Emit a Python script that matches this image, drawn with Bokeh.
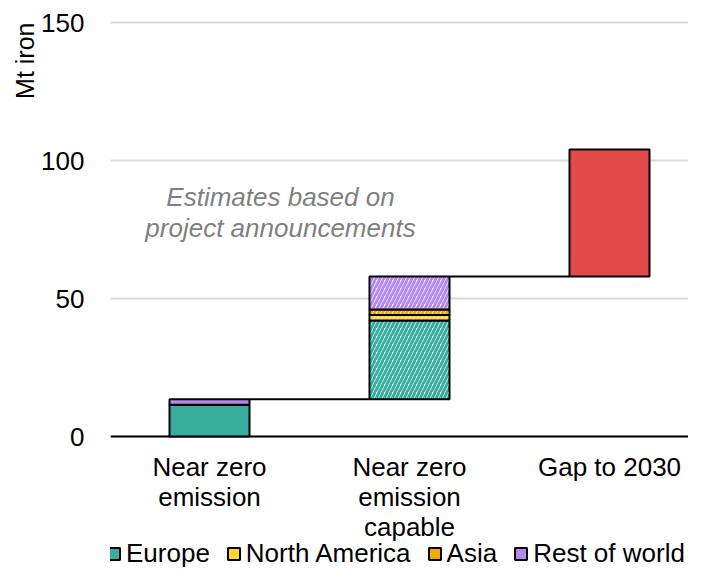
import numpy as np
from bokeh.plotting import figure
from bokeh.models import FixedTicker, Label, Legend, LegendItem, Range1d, Title
from bokeh.embed import file_html
from bokeh.resources import INLINE

# ---- data ----
categories = ["Near zero\nemission", "Near zero\nemission\ncapable", "Gap to 2030"]
series_names = ["Europe", "North America", "Asia", "Rest of world"]
europe = [11.5, 28.5]
north_america = [0.0, 2.0]
asia = [0.0, 2.0]
rest_of_world = [2.0, 12.0]
gap_to_2030 = 46.0
y_ticks = [0, 50, 100, 150]

colors = ["#38AD9E", "#FFD52E", "#F2A900", "#B38AEB"]
gap_color = "#E34A4A"
FONT = "Liberation Sans"
FS = "26px"

H = 569
PX_PER_UNIT = (436 - 22) / 150.0
y_bottom = -(H - 436) / PX_PER_UNIT
y_top = 150 + 6 / PX_PER_UNIT

p = figure(width=688, height=H, output_backend="svg", toolbar_location=None,
           x_range=Range1d(-0.495, 2.395), y_range=Range1d(y_bottom, y_top),
           min_border_left=110, min_border_right=0, min_border_top=16, min_border_bottom=0)
p.outline_line_color = None
p.background_fill_color = "white"
p.border_fill_color = "white"
p.xaxis.visible = False

# grid
p.xgrid.grid_line_color = None
p.ygrid.grid_line_color = "#D9D9D9"
p.ygrid.grid_line_width = 2
p.yaxis.ticker = FixedTicker(ticks=y_ticks)
p.yaxis.major_tick_line_color = None
p.yaxis.minor_tick_line_color = None
p.yaxis.major_label_text_font = FONT
p.yaxis.major_label_text_font_size = FS
p.yaxis.major_label_text_color = "#000000"
p.yaxis.axis_line_color = None
p.yaxis.major_label_standoff = 20

# category axis line at y = 0
p.segment(x0=[-0.495], x1=[2.395], y0=[0], y1=[0], line_color="black", line_width=2)

# category labels
line_gap = 30 / PX_PER_UNIT
first = -30 / PX_PER_UNIT
for i, c in enumerate(categories):
    for k, line in enumerate(c.split("\n")):
        p.add_layout(Label(x=i, y=first - k * line_gap, text=line, text_font=FONT,
                           text_font_size=FS, text_color="black",
                           text_align="center", text_baseline="middle"))

width = 0.4
stacks = np.array([europe, north_america, asia, rest_of_world])  # shape (4, 2)
base = 0.0
tops = []
legend_renderers = [None] * len(series_names)
for ci in range(stacks.shape[1]):
    bottom = base
    for si in range(stacks.shape[0]):
        v = stacks[si, ci]
        kw = dict(x=[ci], width=width, bottom=[bottom], top=[bottom + v],
                  line_color="black", line_width=2)
        if ci == 0:
            r = p.vbar(fill_color=colors[si], **kw)
            legend_renderers[si] = r
        else:
            if v <= 0:
                continue
            p.vbar(fill_color="white", hatch_pattern="/", hatch_color=colors[si],
                   hatch_scale=8, hatch_weight=3, **kw)
        bottom += v
    base = bottom
    tops.append(base)

# gap bar
p.vbar(x=[2], width=width, bottom=[base], top=[base + gap_to_2030],
       fill_color=gap_color, line_color="black", line_width=2)

# connectors
for ci, t in enumerate(tops):
    p.segment(x0=[ci + width / 2], x1=[ci + 1 - width / 2], y0=[t], y1=[t],
              line_color="black", line_width=2)

# y-axis label as a side title (top-aligned)
p.add_layout(Title(text="Mt iron", align="right", text_font=FONT, text_font_size="25px",
                   text_font_style="normal", text_color="black", standoff=0,
                   offset=6), "left")

# annotation
for txt, yy in [("Estimates based on", 86.6), ("project announcements", 75.7)]:
    p.add_layout(Label(x=0.355, y=yy, text=txt, text_font=FONT, text_font_style="italic",
                       text_font_size=FS, text_color="#7F7F7F",
                       text_align="center", text_baseline="middle"))

# legend
items = [LegendItem(label=name, renderers=[r]) for name, r in zip(series_names, legend_renderers)]
legend = Legend(items=items, orientation="horizontal", location=(-4, 0),
                label_text_font=FONT, label_text_font_size=FS, label_text_color="black",
                glyph_width=15, glyph_height=15, label_standoff=5, spacing=16,
                label_height=15, padding=0, margin=0, border_line_color=None,
                background_fill_alpha=0)
p.add_layout(legend, "center")

open("out.html", "w").write(file_html(p, INLINE))
